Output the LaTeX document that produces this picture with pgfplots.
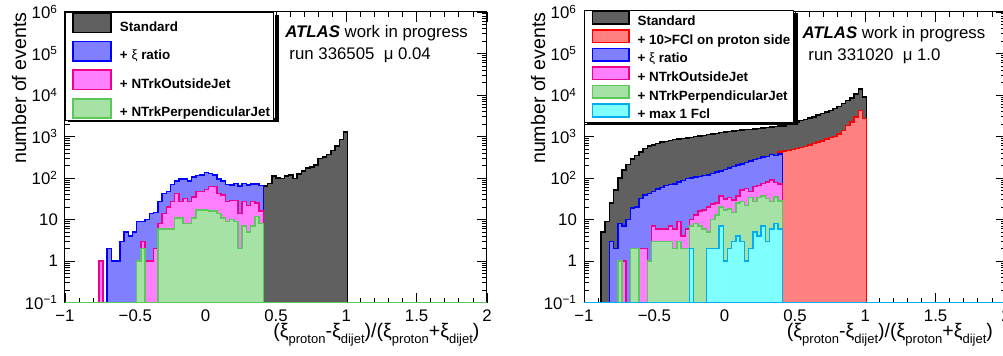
\documentclass[border=0pt]{standalone}
\usepackage{fontspec}
\setmainfont{Liberation Sans}
\usepackage{pgfplots}
\pgfplotsset{compat=1.18}
\usepackage{pgfplotstable}

\definecolor{hblackfill}{RGB}{96,96,96}
\definecolor{hbluefill}{RGB}{128,128,255}
\definecolor{hpinkfill}{RGB}{255,128,255}
\definecolor{hgreenfill}{RGB}{166,226,166}
\definecolor{hgreenline}{RGB}{90,200,90}
\definecolor{hredfill}{RGB}{255,128,128}
\definecolor{hcyanfill}{RGB}{128,255,255}

\newcommand\sub[1]{\raisebox{-0.6ex}{\fontsize{6.5}{7}\selectfont #1}}
\newcommand\dph{\vphantom{p}}

\pgfplotstableread{
k black blue pink green
0 0.1 0.1 0.1 0.1
7 0.1 0.1 0.1 0.1
8 1 1 1 0.1
9 0.1 0.1 0.1 0.1
10 2 2 0.1 0.1
11 1 1 0.1 0.1
12 1 1 0.1 0.1
13 3 3 0.1 0.1
14 5 5 0.1 0.1
15 4 4 0.1 0.1
16 5 5 0.1 0.1
17 9 9 1 1
18 9 9 3 2
19 10 10 1 0.1
20 14 14 1 0.1
21 15 15 2 0.1
22 27 27 8 6
23 43 43 14 6
24 47 47 20 6
25 70 70 27 6
26 85 85 43 11
27 95 95 27 11
28 95 95 32 8
29 85 85 27 8
30 107 107 35 11
31 115 115 47 17
32 120 120 47 17
33 138 138 53 17
34 128 128 62 16
35 118 118 62 16
36 95 95 43 14
37 84 84 39 11
38 70 70 27 9
39 68 68 29 10
40 74 74 29 9
41 65 65 14 2
42 74 74 27 7
43 68 68 22 5
44 72 72 27 7
45 72 72 25 12
46 66 66 16 8
47 64 0.1 0.1 0.1
48 74 0.1 0.1 0.1
49 112 0.1 0.1 0.1
50 100 0.1 0.1 0.1
51 98 0.1 0.1 0.1
52 112 0.1 0.1 0.1
53 120 0.1 0.1 0.1
54 98 0.1 0.1 0.1
55 125 0.1 0.1 0.1
56 150 0.1 0.1 0.1
57 176 0.1 0.1 0.1
58 185 0.1 0.1 0.1
59 205 0.1 0.1 0.1
60 295 0.1 0.1 0.1
61 325 0.1 0.1 0.1
62 370 0.1 0.1 0.1
63 468 0.1 0.1 0.1
64 600 0.1 0.1 0.1
65 850 0.1 0.1 0.1
66 1290 0.1 0.1 0.1
67 0.1 0.1 0.1 0.1
100 0.1 0.1 0.1 0.1
}\leftdata

\pgfplotstableread{
k black red blue pink green cyan
0 0.1 0.1 0.1 0.1 0.1 0.1
4 5 0.1 0.1 0.1 0.1 0.1
5 9 0.1 0.1 0.1 0.1 0.1
6 25 3 3 0.1 0.1 0.1
7 52 2 2 0.1 0.1 0.1
8 100 8 8 1 1 0.1
9 155 7 7 1 0.1 0.1
10 215 10 10 0.1 0.1 0.1
11 290 19 19 2 2 0.1
12 350 20 20 2 2 0.1
13 427 32 32 2 0.1 0.1
14 515 39 39 2 0.1 0.1
15 590 43 43 1 1 0.1
16 620 47 47 7 3 0.1
17 675 54 54 6 3 0.1
18 742 60 60 6 3 0.1
19 770 67 67 6 3 0.1
20 810 70 70 7 3 0.1
21 860 72 72 6 2 0.1
22 880 81 81 9 3 0.1
23 900 88 88 4 2 0.1
24 920 98 98 6 2 0.1
25 950 100 100 10 7 2
26 1000 105 105 13 8 0.1
27 1020 110 110 16 7 0.1
28 1070 115 115 17 6 0.1
29 1110 120 120 20 5 2
30 1150 130 130 24 10 2
31 1200 140 140 25 13 2
32 1250 150 150 37 20 7
33 1290 160 160 31 17 1
34 1320 175 175 34 18 2
35 1360 190 190 30 15 3
36 1400 205 205 37 25 4
37 1430 220 220 51 27 3
38 1460 240 240 56 22 1
39 1500 260 260 47 34 2
40 1540 280 280 62 27 5
41 1570 300 300 67 34 4
42 1610 320 320 74 37 7
43 1650 330 330 80 32 3
44 1700 370 370 89 27 6
45 1740 355 355 78 35 8
46 1780 430 380 72 28 6
47 1800 450 0.1 0.1 0.1 0.1
48 1950 468 0.1 0.1 0.1 0.1
49 2100 495 0.1 0.1 0.1 0.1
50 2250 513 0.1 0.1 0.1 0.1
51 2450 543 0.1 0.1 0.1 0.1
52 2600 575 0.1 0.1 0.1 0.1
53 2800 620 0.1 0.1 0.1 0.1
54 3000 680 0.1 0.1 0.1 0.1
55 3300 745 0.1 0.1 0.1 0.1
56 3550 790 0.1 0.1 0.1 0.1
57 3900 880 0.1 0.1 0.1 0.1
58 4300 950 0.1 0.1 0.1 0.1
59 4800 1000 0.1 0.1 0.1 0.1
60 5300 1150 0.1 0.1 0.1 0.1
61 6200 1400 0.1 0.1 0.1 0.1
62 7300 1870 0.1 0.1 0.1 0.1
63 8500 2230 0.1 0.1 0.1 0.1
64 10500 2960 0.1 0.1 0.1 0.1
65 14000 4270 0.1 0.1 0.1 0.1
66 9000 2700 0.1 0.1 0.1 0.1
67 0.1 0.1 0.1 0.1 0.1 0.1
100 0.1 0.1 0.1 0.1 0.1 0.1
}\rightdata

\pgfplotsset{
  every axis/.append style={
    scale only axis, width=211pt, height=145.35pt,
    xmin=-1, xmax=2, ymin=0.1, ymax=1e6,
    log origin y=infty,
    xtick={-1,-0.5,0,0.5,1,1.5,2},
    xticklabels={−1,−0.5,0,0.5,1,1.5,2},
    minor x tick num=4,
    ytick={0.1,1,10,100,1000,10000,100000,1000000},
    yticklabels={10\textsuperscript{−1},1,10,10\textsuperscript{2},10\textsuperscript{3},10\textsuperscript{4},10\textsuperscript{5},10\textsuperscript{6}},
    tick align=inside, major tick length=5pt, minor tick length=2.5pt,
    tick style={black, line width=0.4pt},
    axis line style={line width=0.5pt},
    tick label style={font=\fontsize{8.4}{9}\selectfont},
    label style={font=\fontsize{9.8}{11}\selectfont},
    ylabel style={at={(rel axis cs:-0.109,1)}, anchor=east, inner sep=0pt},
    xlabel style={at={(rel axis cs:0.983,-0.07)}, anchor=north east, inner sep=0pt},
    legend cell align=left,
  },
  every axis plot/.append style={const plot mark left, line width=0.75pt},
}

\begin{document}
\begin{tikzpicture}
\useasboundingbox (0,0) rectangle (501.5pt,178pt);

% ---------------- left panel ----------------
\begin{semilogyaxis}[at={(32.5pt,26.65pt)}, anchor=south west,
  xlabel={(ξ\sub{proton}-ξ\sub{dijet})/(ξ\sub{proton}+ξ\sub{dijet})},
  ylabel={number of events},
  legend image code/.code={\path (0pt,0pt); \draw[#1] (2.5pt,-2.45pt) rectangle (21.5pt,7.25pt);},
  legend style={at={(rel axis cs:0,1)}, anchor=north west, draw=black, line width=0.5pt,
    fill=white, font=\bfseries\fontsize{6.7}{8}\selectfont, row sep=2.95pt,
    inner xsep=1pt, inner ysep=0pt,
    nodes={inner sep=0.5pt},
    /tikz/every odd column/.append style={column sep=3.5pt}},
]
\addplot[fill=hblackfill, draw=black] table[x expr=-1+0.03*\thisrow{k}, y=black] {\leftdata} \closedcycle;
\addlegendentry{Standard\dph}
\addplot[fill=hbluefill, draw=blue] table[x expr=-1+0.03*\thisrow{k}, y=blue] {\leftdata} \closedcycle;
\addlegendentry{+ \mdseries ξ\bfseries\ ratio\dph}
\addplot[fill=hpinkfill, draw=magenta] table[x expr=-1+0.03*\thisrow{k}, y=pink] {\leftdata} \closedcycle;
\addlegendentry{+ NTrkOutsideJet\dph}
\addplot[fill=hgreenfill, draw=hgreenline] table[x expr=-1+0.03*\thisrow{k}, y=green] {\leftdata} \closedcycle;
\addlegendentry{+ NTrkPerpendicularJet\dph}
\draw[black, line width=2pt] (rel axis cs:0.5012,0.9897) -- (rel axis cs:0.5012,0.630) -- (rel axis cs:0.007,0.630);
\node[anchor=west, font=\fontsize{8.4}{10}\selectfont, inner sep=0pt] at (rel axis cs:0.521,0.928) {\textbf{\textit{ATLAS}} work in progress};
\node[anchor=west, font=\fontsize{8.4}{10}\selectfont, inner sep=0pt] at (rel axis cs:0.531,0.852) {run 336505\ \ μ 0.04};
\end{semilogyaxis}

% ---------------- right panel ----------------
\begin{semilogyaxis}[at={(292pt,26.65pt)}, anchor=south west,
  xlabel={(ξ\sub{proton}-ξ\sub{dijet})/(ξ\sub{proton}+ξ\sub{dijet})},
  ylabel={number of events},
  xlabel style={at={(rel axis cs:0.97,-0.07)}},
  legend image code/.code={\path (0pt,0pt); \draw[#1] (2.5pt,-0.75pt) rectangle (20.8pt,5.55pt);},
  legend style={at={(rel axis cs:0,1.007)}, anchor=north west, draw=black, line width=0.5pt,
    fill=white, font=\bfseries\fontsize{6.7}{8}\selectfont, row sep=-0.3pt,
    inner xsep=1pt, inner ysep=0pt,
    nodes={inner sep=0.5pt},
    /tikz/every odd column/.append style={column sep=3.5pt}},
]
\addplot[fill=hblackfill, draw=black] table[x expr=-1+0.03*\thisrow{k}, y=black] {\rightdata} \closedcycle;
\addlegendentry{Standard\dph}
\addplot[fill=hredfill, draw=red] table[x expr=-1+0.03*\thisrow{k}, y=red] {\rightdata} \closedcycle;
\addlegendentry{+ 10>FCl on proton side\dph}
\addplot[fill=hbluefill, draw=blue] table[x expr=-1+0.03*\thisrow{k}, y=blue] {\rightdata} \closedcycle;
\addlegendentry{+ \mdseries ξ\bfseries\ ratio\dph}
\addplot[fill=hpinkfill, draw=magenta] table[x expr=-1+0.03*\thisrow{k}, y=pink] {\rightdata} \closedcycle;
\addlegendentry{+ NTrkOutsideJet\dph}
\addplot[fill=hgreenfill, draw=hgreenline] table[x expr=-1+0.03*\thisrow{k}, y=green] {\rightdata} \closedcycle;
\addlegendentry{+ NTrkPerpendicularJet\dph}
\addplot[fill=hcyanfill, draw=cyan] table[x expr=-1+0.03*\thisrow{k}, y=cyan] {\rightdata} \closedcycle;
\addlegendentry{+ max 1 Fcl\dph}
\draw[black, line width=2pt] (rel axis cs:0.5012,0.9966) -- (rel axis cs:0.5012,0.618) -- (rel axis cs:0.007,0.618);
\node[anchor=west, font=\fontsize{8.4}{10}\selectfont, inner sep=0pt] at (rel axis cs:0.517,0.924) {\textbf{\textit{ATLAS}} work in progress};
\node[anchor=west, font=\fontsize{8.4}{10}\selectfont, inner sep=0pt] at (rel axis cs:0.531,0.849) {run 331020\ \ μ 1.0};
\end{semilogyaxis}
\end{tikzpicture}
\end{document}
